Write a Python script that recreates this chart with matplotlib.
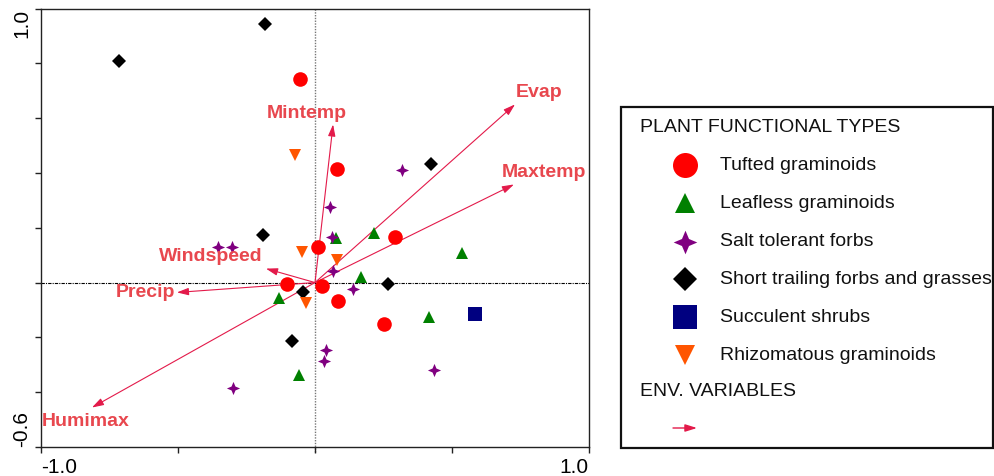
"""
Ordination biplot: plant functional types and environmental variables.
"""

import matplotlib
matplotlib.use("Agg")
import matplotlib.pyplot as plt
from matplotlib.patches import Rectangle
from matplotlib.path import Path

plt.rcParams['font.family'] = ['Liberation Sans', 'DejaVu Sans']

# --- site scores per plant functional type ---
tufted_x = [-0.055, 0.080, 0.011, 0.292, -0.102, 0.026, 0.084, 0.252]
tufted_y = [0.741, 0.416, 0.131, 0.168, -0.004, -0.011, -0.069, -0.150]

leafless_x = [0.077, 0.215, 0.168, -0.131, 0.536, 0.416, -0.058]
leafless_y = [0.164, 0.182, 0.022, -0.055, 0.109, -0.124, -0.339]

salt_x = [0.318, 0.055, 0.062, 0.066, 0.139, -0.354, -0.303, 0.040, 0.033, 0.434, -0.300]
salt_y = [0.412, 0.274, 0.168, 0.044, -0.022, 0.128, 0.128, -0.245, -0.288, -0.318, -0.383]

trailing_x = [-0.715, -0.182, -0.190, 0.423, 0.266, -0.044, -0.084]
trailing_y = [0.810, 0.945, 0.172, 0.434, -0.007, -0.033, -0.215]

shrub_x = [0.584]
shrub_y = [-0.113]

rhizo_x = [-0.073, -0.047, 0.080, -0.033]
rhizo_y = [0.467, 0.113, 0.084, -0.073]

# --- environmental variable vectors ---
env_names = ["Evap", "Maxtemp", "Mintemp", "Windspeed", "Precip", "Humimax"]
env_x = [0.730, 0.726, 0.066, -0.179, -0.504, -0.814]
env_y = [0.650, 0.358, 0.577, 0.051, -0.036, -0.456]

x_ticks = [-1.0, -0.5, 0.0, 0.5, 1.0]
y_ticks = [-0.6, -0.4, -0.2, 0.0, 0.2, 0.4, 0.6, 0.8, 1.0]

ARROW_COLOR = '#E31A4A'
LABEL_COLOR = '#E8474E'

# fatter 4-point star like the original software draws
star4 = Path.unit_regular_star(4, innerCircle=0.42)

groups = [
    ("Tufted graminoids", tufted_x, tufted_y, 'o', '#FF0000', 10.5, 18),
    ("Leafless graminoids", leafless_x, leafless_y, '^', '#008000', 8.5, 14),
    ("Salt tolerant forbs", salt_x, salt_y, star4, '#800080', 9.5, 17),
    ("Short trailing forbs and grasses", trailing_x, trailing_y, 'D', '#000000', 7, 12),
    ("Succulent shrubs", shrub_x, shrub_y, 's', '#000080', 9.5, 17),
    ("Rhizomatous graminoids", rhizo_x, rhizo_y, 'v', '#FF5500', 8.5, 15),
]

fig = plt.figure(figsize=(9.95, 4.76), dpi=100)
ax = fig.add_axes([41 / 995, 29 / 476, 548 / 995, 438.5 / 476])

ax.set_xlim(-1.0, 1.0)
ax.set_ylim(-0.6, 1.0)

# reference lines through the origin
ax.axvline(0, color='#777777', lw=1.0, ls=(0, (1, 1)), zorder=1, clip_on=False,
           ymin=-0.012, ymax=1)
ax.axhline(0, color='#000000', lw=0.8, ls=(0, (3, 1, 1, 1)), zorder=1)

# env vectors
label_offsets = {
    "Evap": (1, 12, 'left'),
    "Maxtemp": (-12, 12, 'left'),
    "Mintemp": (-26, 11, 'center'),
    "Windspeed": (-3, 12, 'right'),
    "Precip": (-2, 0, 'right'),
    "Humimax": (-6, -14, 'center'),
}
for name, ex, ey in zip(env_names, env_x, env_y):
    ax.annotate("", xy=(ex, ey), xytext=(0, 0),
                arrowprops=dict(arrowstyle='-|>,head_length=0.7,head_width=0.22',
                                color=ARROW_COLOR, lw=0.8, shrinkA=0, shrinkB=0),
                zorder=2)
    dx, dy, ha = label_offsets[name]
    ax.annotate(name, xy=(ex, ey), xytext=(dx, dy), textcoords='offset pixels',
                ha=ha, va='center', fontsize=14, fontweight='bold',
                color=LABEL_COLOR, zorder=4)

# site points
for name, xs, ys, marker, color, ms, _ in groups:
    ax.plot(xs, ys, ls='none', marker=marker, color=color, markersize=ms,
            markeredgewidth=0, zorder=3)

# axes styling
ax.set_xticks(x_ticks)
ax.set_xticklabels(["-1.0", "", "", "", "1.0"], fontsize=15)
ax.set_yticks(y_ticks)
ax.set_yticklabels(["-0.6", "", "", "", "", "", "", "", "1.0"], fontsize=15, rotation=90)
xlabels = ax.get_xticklabels()
xlabels[0].set_ha('left')
xlabels[-1].set_ha('right')
ylabels = ax.get_yticklabels()
ylabels[0].set_va('bottom')
ylabels[-1].set_va('top')
ax.tick_params(axis='both', direction='out', length=4, width=1, color='#222222', pad=3)
ax.tick_params(axis='x', pad=4)
for side in ['left', 'bottom', 'right', 'top']:
    ax.spines[side].set_linewidth(1.0)
    ax.spines[side].set_color('#222222')

# legend panel (drawn in pixel coordinates)
leg = fig.add_axes([0, 0, 1, 1])
leg.set_xlim(0, 995)
leg.set_ylim(476, 0)
leg.axis('off')
leg.add_patch(Rectangle((621, 107), 372, 341, fill=False, edgecolor='#111111',
                        lw=1.6, clip_on=False))
leg.text(640, 127, "PLANT FUNCTIONAL TYPES", fontsize=14, va='center', ha='left',
         color='#111111')
row_y = [165, 203, 242, 279, 317, 355]
for (name, _, _, marker, color, _, ms_leg), yy in zip(groups, row_y):
    leg.plot([685], [yy], ls='none', marker=marker, color=color, markersize=ms_leg,
             markeredgewidth=0)
    leg.text(720, yy, name, fontsize=14, va='center', ha='left', color='#111111')
leg.text(640, 392, "ENV. VARIABLES", fontsize=14, va='center', ha='left', color='#111111')
leg.annotate("", xy=(697, 428), xytext=(673, 428),
             arrowprops=dict(arrowstyle='-|>,head_length=0.7,head_width=0.22',
                             color=ARROW_COLOR, lw=1.0, shrinkA=0, shrinkB=0))

fig.savefig("out.png", dpi=100)
plt.close(fig)
